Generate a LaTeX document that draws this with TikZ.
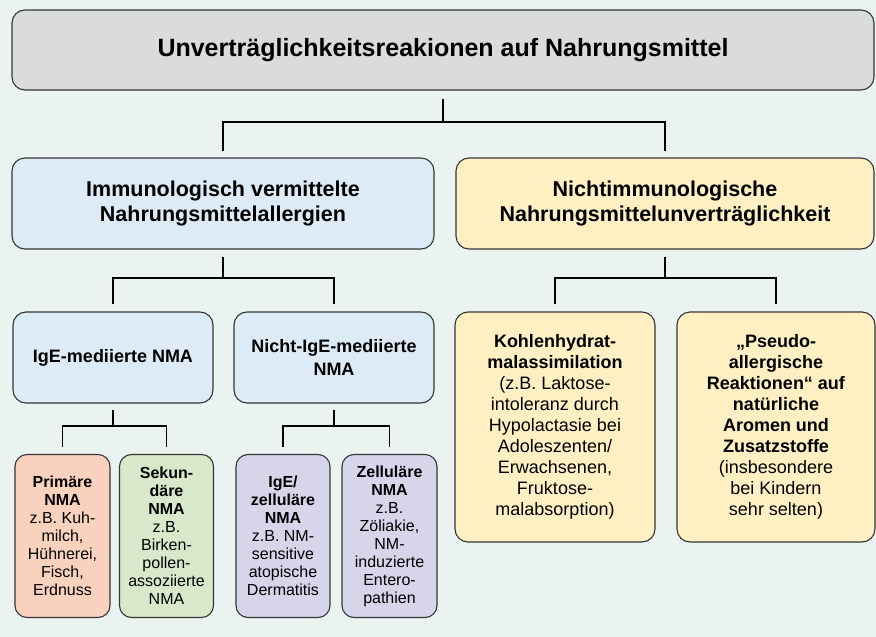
\documentclass[tikz,border=0pt]{standalone}
\usepackage{fontspec}
\setmainfont{Liberation Sans}
\definecolor{bgc}{HTML}{EBF3F1}
\definecolor{grayc}{HTML}{DADBDD}
\definecolor{bluec}{HTML}{DCEBF6}
\definecolor{yelc}{HTML}{FEF0C2}
\definecolor{salc}{HTML}{F9D2BE}
\definecolor{grnc}{HTML}{D7E8CB}
\definecolor{purc}{HTML}{D7D5EA}
\definecolor{edgec}{HTML}{353535}
\tikzset{
  box/.style={draw=edgec, line width=1.1pt, rounded corners=13pt, inner sep=0pt, align=center, text=black},
  conn/.style={draw=black, line width=1.5pt},
  ftitle/.style={font={\fontsize{25}{30}\selectfont\bfseries}},
  fmid/.style={font={\fontsize{21.5}{25}\selectfont\bfseries}},
  fthree/.style={font={\fontsize{18}{23}\selectfont}},
  fyel/.style={font={\fontsize{18}{21}\selectfont}},
  ffour/.style={font={\fontsize{16}{18}\selectfont}},
}
\begin{document}
\begin{tikzpicture}[x=1pt,y=-1pt]
\fill[bgc] (0,0) rectangle (876,637);
\useasboundingbox (0,0) rectangle (876,637);

\node[box, fill=grayc, ftitle, minimum width=862pt, minimum height=80pt] (top) at (443,50) {Unverträglichkeitsreakionen auf Nahrungsmittel};

\node[box, fill=bluec, fmid, minimum width=422pt, minimum height=91pt] (imm) at (223,203.5) {Immunologisch vermittelte\\Nahrungsmittelallergien};
\node[box, fill=yelc, fmid, minimum width=418pt, minimum height=91pt] (nim) at (665,203.5) {Nichtimmunologische\\Nahrungsmittelunverträglichkeit};

\node[box, fill=bluec, fthree, minimum width=200pt, minimum height=91pt] (ige) at (113,357.5) {\textbf{IgE-mediierte NMA}};
\node[box, fill=bluec, fthree, minimum width=200pt, minimum height=91pt] (nige) at (334,357.5) {\textbf{Nicht-IgE-mediierte}\\\textbf{NMA}};

\node[box, fill=yelc, fyel, minimum width=200pt, minimum height=230pt] (kh) at (555,427) {\textbf{Kohlenhydrat-}\\\textbf{malassimilation}\\(z.B. Laktose-\\intoleranz durch\\Hypolactasie bei\\Adoleszenten/\\Erwachsenen,\\Fruktose-\\malabsorption)};
\node[box, fill=yelc, fyel, minimum width=198pt, minimum height=230pt] (ps) at (776,427) {\textbf{„Pseudo-}\\\textbf{allergische}\\\textbf{Reaktionen“ auf}\\\textbf{natürliche}\\\textbf{Aromen und}\\\textbf{Zusatzstoffe}\\(insbesondere\\bei Kindern\\sehr selten)};

\node[box, fill=salc, ffour, rounded corners=12pt, minimum width=95pt, minimum height=163pt] (prim) at (62.5,536) {\textbf{Primäre}\\\textbf{NMA}\\z.B. Kuh-\\milch,\\Hühnerei,\\Fisch,\\Erdnuss};
\node[box, fill=grnc, ffour, rounded corners=12pt, minimum width=94pt, minimum height=163pt] (sek) at (166.5,536) {\textbf{Sekun-}\\\textbf{däre}\\\textbf{NMA}\\z.B.\\Birken-\\pollen-\\assoziierte\\NMA};
\node[box, fill=purc, ffour, rounded corners=12pt, minimum width=94pt, minimum height=163pt] (igz) at (283,536) {\textbf{IgE/}\\\textbf{zelluläre}\\\textbf{NMA}\\z.B. NM-\\sensitive\\atopische\\Dermatitis};
\node[box, fill=purc, ffour, rounded corners=12pt, minimum width=95pt, minimum height=163pt] (zel) at (389.5,536) {\textbf{Zelluläre}\\\textbf{NMA}\\z.B.\\Zöliakie,\\NM-\\induzierte\\Entero-\\pathien};

\coordinate (j1) at (443,122);
\coordinate (j2) at (223,278);
\coordinate (j3) at (665,278);
\coordinate (j4) at (113,426);
\coordinate (j5) at (334,426);

\draw[conn, shorten <=8pt] (top.south) -- (j1);
\draw[conn, shorten >=6pt] (j1) -| (imm.north);
\draw[conn, shorten >=6pt] (j1) -| (nim.north);

\draw[conn, shorten <=7pt] (imm.south) -- (j2);
\draw[conn, shorten >=7pt] (j2) -| (ige.north);
\draw[conn, shorten >=7pt] (j2) -| (nige.north);

\draw[conn, shorten <=7pt] (nim.south) -- (j3);
\draw[conn, shorten >=7pt] (j3) -| (kh.north);
\draw[conn, shorten >=7pt] (j3) -| (ps.north);

\draw[conn, shorten <=6pt] (ige.south) -- (j4);
\draw[conn, shorten >=7pt] (j4) -| (prim.north);
\draw[conn, shorten >=7pt] (j4) -| (sek.north);

\draw[conn, shorten <=6pt] (nige.south) -- (j5);
\draw[conn, shorten >=7pt] (j5) -| (igz.north);
\draw[conn, shorten >=7pt] (j5) -| (zel.north);
\end{tikzpicture}
\end{document}
